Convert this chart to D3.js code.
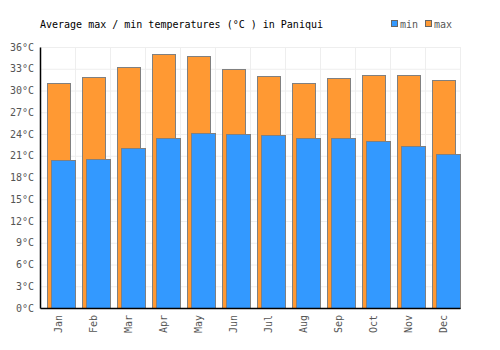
<!DOCTYPE html>
<html><head><meta charset="utf-8">
<script src="https://cdn.jsdelivr.net/npm/d3@7"></script>
<style>body{margin:0;background:#fff}svg{display:block}</style>
</head><body><svg id="c" width="500" height="350"></svg>
<script>
const months = ["Jan","Feb","Mar","Apr","May","Jun","Jul","Aug","Sep","Oct","Nov","Dec"];
const maxTemps = [31.1,31.8,33.3,35.0,34.7,32.9,32.0,31.1,31.7,32.2,32.1,31.4];
const minTemps = [20.4,20.6,22.0,23.5,24.2,24.0,23.8,23.5,23.5,23.1,22.3,21.2];
const yTicks = [0,3,6,9,12,15,18,21,24,27,30,33,36];
const title = "Average max / min temperatures (°C ) in Paniqui";

const svg = d3.select("#c");
const font = "'DejaVu Sans Mono', monospace";
const L = 40, R = 460, T = 47, B = 308;
const x = d3.scaleBand().domain(months).range([L, R]);
const y = d3.scaleLinear().domain([0, 36]).range([B, T]);
const bw = x.bandwidth();

// grid
const g = svg.append("g");
g.selectAll("line.h").data(yTicks).join("line")
  .attr("x1", L).attr("x2", R).attr("y1", d => y(d) + 0.5).attr("y2", d => y(d) + 0.5)
  .attr("stroke", "#eeeeee").attr("stroke-width", 1);
g.selectAll("line.v").data(months.concat(["_end"])).join("line")
  .attr("x1", (d, i) => Math.round(L + i * bw) + 0.5).attr("x2", (d, i) => Math.round(L + i * bw) + 0.5)
  .attr("y1", T).attr("y2", B)
  .attr("stroke", "#eeeeee").attr("stroke-width", 1);

// bars
svg.append("g").selectAll("rect").data(maxTemps).join("rect")
  .attr("x", (d, i) => Math.round(x(months[i]) + bw * 0.19) + 0.5)
  .attr("width", Math.round(bw * 0.66))
  .attr("y", d => Math.round(y(d)) + 0.5)
  .attr("height", d => B - Math.round(y(d)))
  .attr("fill", "#ff9933").attr("stroke", "#808080").attr("stroke-width", 1);
svg.append("g").selectAll("rect").data(minTemps).join("rect")
  .attr("x", (d, i) => Math.round(x(months[i]) + bw * 0.325) + 0.5)
  .attr("width", Math.round(bw * 0.69))
  .attr("y", d => Math.round(y(d)) + 0.5)
  .attr("height", d => B - Math.round(y(d)))
  .attr("fill", "#3399ff").attr("stroke", "#808080").attr("stroke-width", 1);

// axes
const ya = svg.append("g").attr("transform", `translate(${L},0)`)
  .call(d3.axisLeft(y).tickValues(yTicks).tickSize(0).tickPadding(6).tickFormat(d => d + "°C"));
ya.select(".domain").attr("stroke", "#000").attr("stroke-width", 1.5);
ya.selectAll("text").attr("font-family", font).attr("font-size", 10).attr("fill", "#555");

const xa = svg.append("g").attr("transform", `translate(0,${B})`)
  .call(d3.axisBottom(x).tickSize(0).tickPadding(0));
xa.select(".domain").attr("stroke", "#000").attr("stroke-width", 1.5);
xa.selectAll("text").attr("font-family", font).attr("font-size", 10).attr("fill", "#555")
  .attr("transform", "rotate(-90)").attr("text-anchor", "end")
  .attr("x", -7).attr("y", 1).attr("dy", "0.35em");

// title
svg.append("text").attr("x", 40).attr("y", 28).text(title)
  .attr("font-family", font).attr("font-size", 10).attr("fill", "#000");

// legend
const legend = [{k: "min", c: "#3399ff"}, {k: "max", c: "#ff9933"}];
const lg = svg.append("g").selectAll("g").data(legend).join("g")
  .attr("transform", (d, i) => `translate(${391 + i * 34},0)`);
lg.append("rect").attr("x", 0.5).attr("y", 20.5).attr("width", 6).attr("height", 6)
  .attr("fill", d => d.c).attr("stroke", "#666").attr("stroke-width", 1);
lg.append("text").attr("x", 9).attr("y", 28).text(d => d.k)
  .attr("font-family", font).attr("font-size", 10).attr("fill", "#555");
</script></body></html>
